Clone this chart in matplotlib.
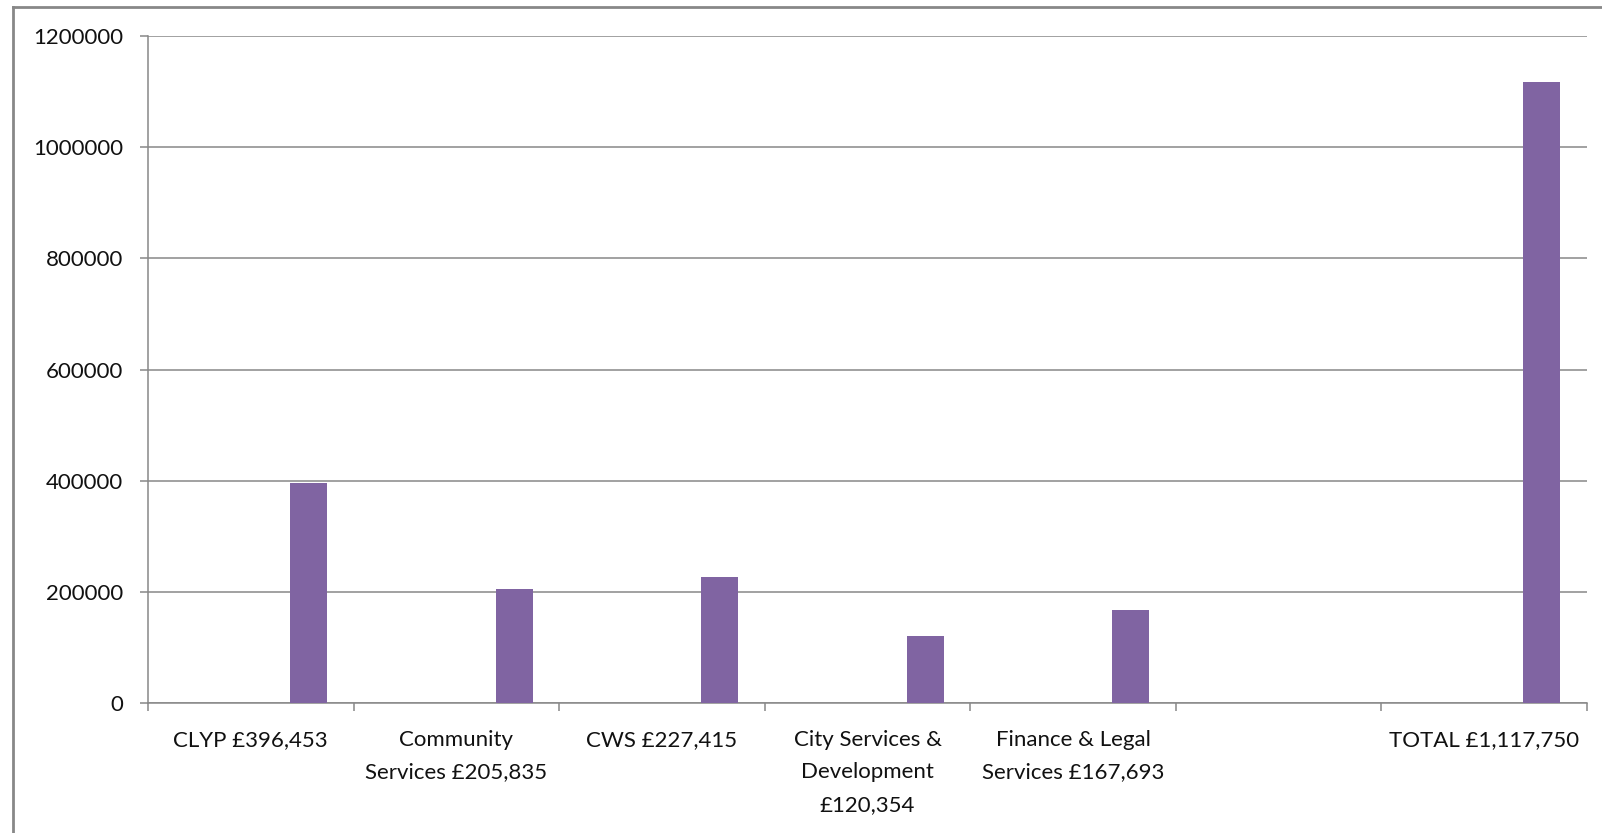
import matplotlib
matplotlib.use("Agg")
import matplotlib.pyplot as plt
from matplotlib.lines import Line2D
from matplotlib.ticker import FixedLocator, NullFormatter

categories = ["CLYP £396,453", "Community\nServices £205,835", "CWS £227,415",
              "City Services &\nDevelopment\n£120,354", "Finance & Legal\nServices £167,693",
              "", "TOTAL £1,117,750"]
values = [396453, 205835, 227415, 120354, 167693, 0, 1117750]
yticks = [0, 200000, 400000, 600000, 800000, 1000000, 1200000]

W, H = 1602, 833
fig = plt.figure(figsize=(W / 100, H / 100), dpi=100)
ax = fig.add_axes([148 / W, 1 - 703 / H, (1587 - 148) / W, (703 - 36) / H])

plt.rcParams['font.family'] = ['Lato', 'DejaVu Sans']
grey = "#888888"
bar_color = "#8064A2"
fs = 16
fam = ['Lato', 'DejaVu Sans']

xs = list(range(len(categories)))
offset = 0.281
ax.bar([x + offset for x in xs], values, width=0.18, color=bar_color, zorder=3)

ax.set_xlim(-0.5, len(categories) - 0.5)
ax.set_ylim(0, 1200000)
ax.set_yticks(yticks)
ax.set_yticklabels([str(v) for v in yticks], fontsize=fs, family=fam, color="#111111")
ax.yaxis.grid(True, color=grey, linewidth=1.1, zorder=0)
ax.set_axisbelow(True)

ax.xaxis.set_major_locator(FixedLocator([x - 0.5 for x in xs] + [len(xs) - 0.5]))
ax.xaxis.set_major_formatter(NullFormatter())
ax.xaxis.set_minor_locator(FixedLocator(xs))
ax.set_xticklabels(categories, minor=True, fontsize=fs, family=fam, color="#111111",
                   linespacing=1.77)
ax.tick_params(axis='x', which='major', length=6, width=1.1, color=grey)
ax.tick_params(axis='x', which='minor', length=0, pad=19.5)
ax.tick_params(axis='y', length=6, width=1.1, color=grey, pad=12)

for s in ['top', 'right']:
    ax.spines[s].set_visible(False)
for s in ['left', 'bottom']:
    ax.spines[s].set_color(grey)
    ax.spines[s].set_linewidth(1.1)

# outer chart border (left and top edges visible)
bx = 12.5 / W
by = 1 - 6.5 / H
fig.add_artist(Line2D([bx, bx], [-0.1, by], transform=fig.transFigure, color=grey, linewidth=2))
fig.add_artist(Line2D([bx, 1.1], [by, by], transform=fig.transFigure, color=grey, linewidth=2))

fig.savefig("out.png", dpi=100)
